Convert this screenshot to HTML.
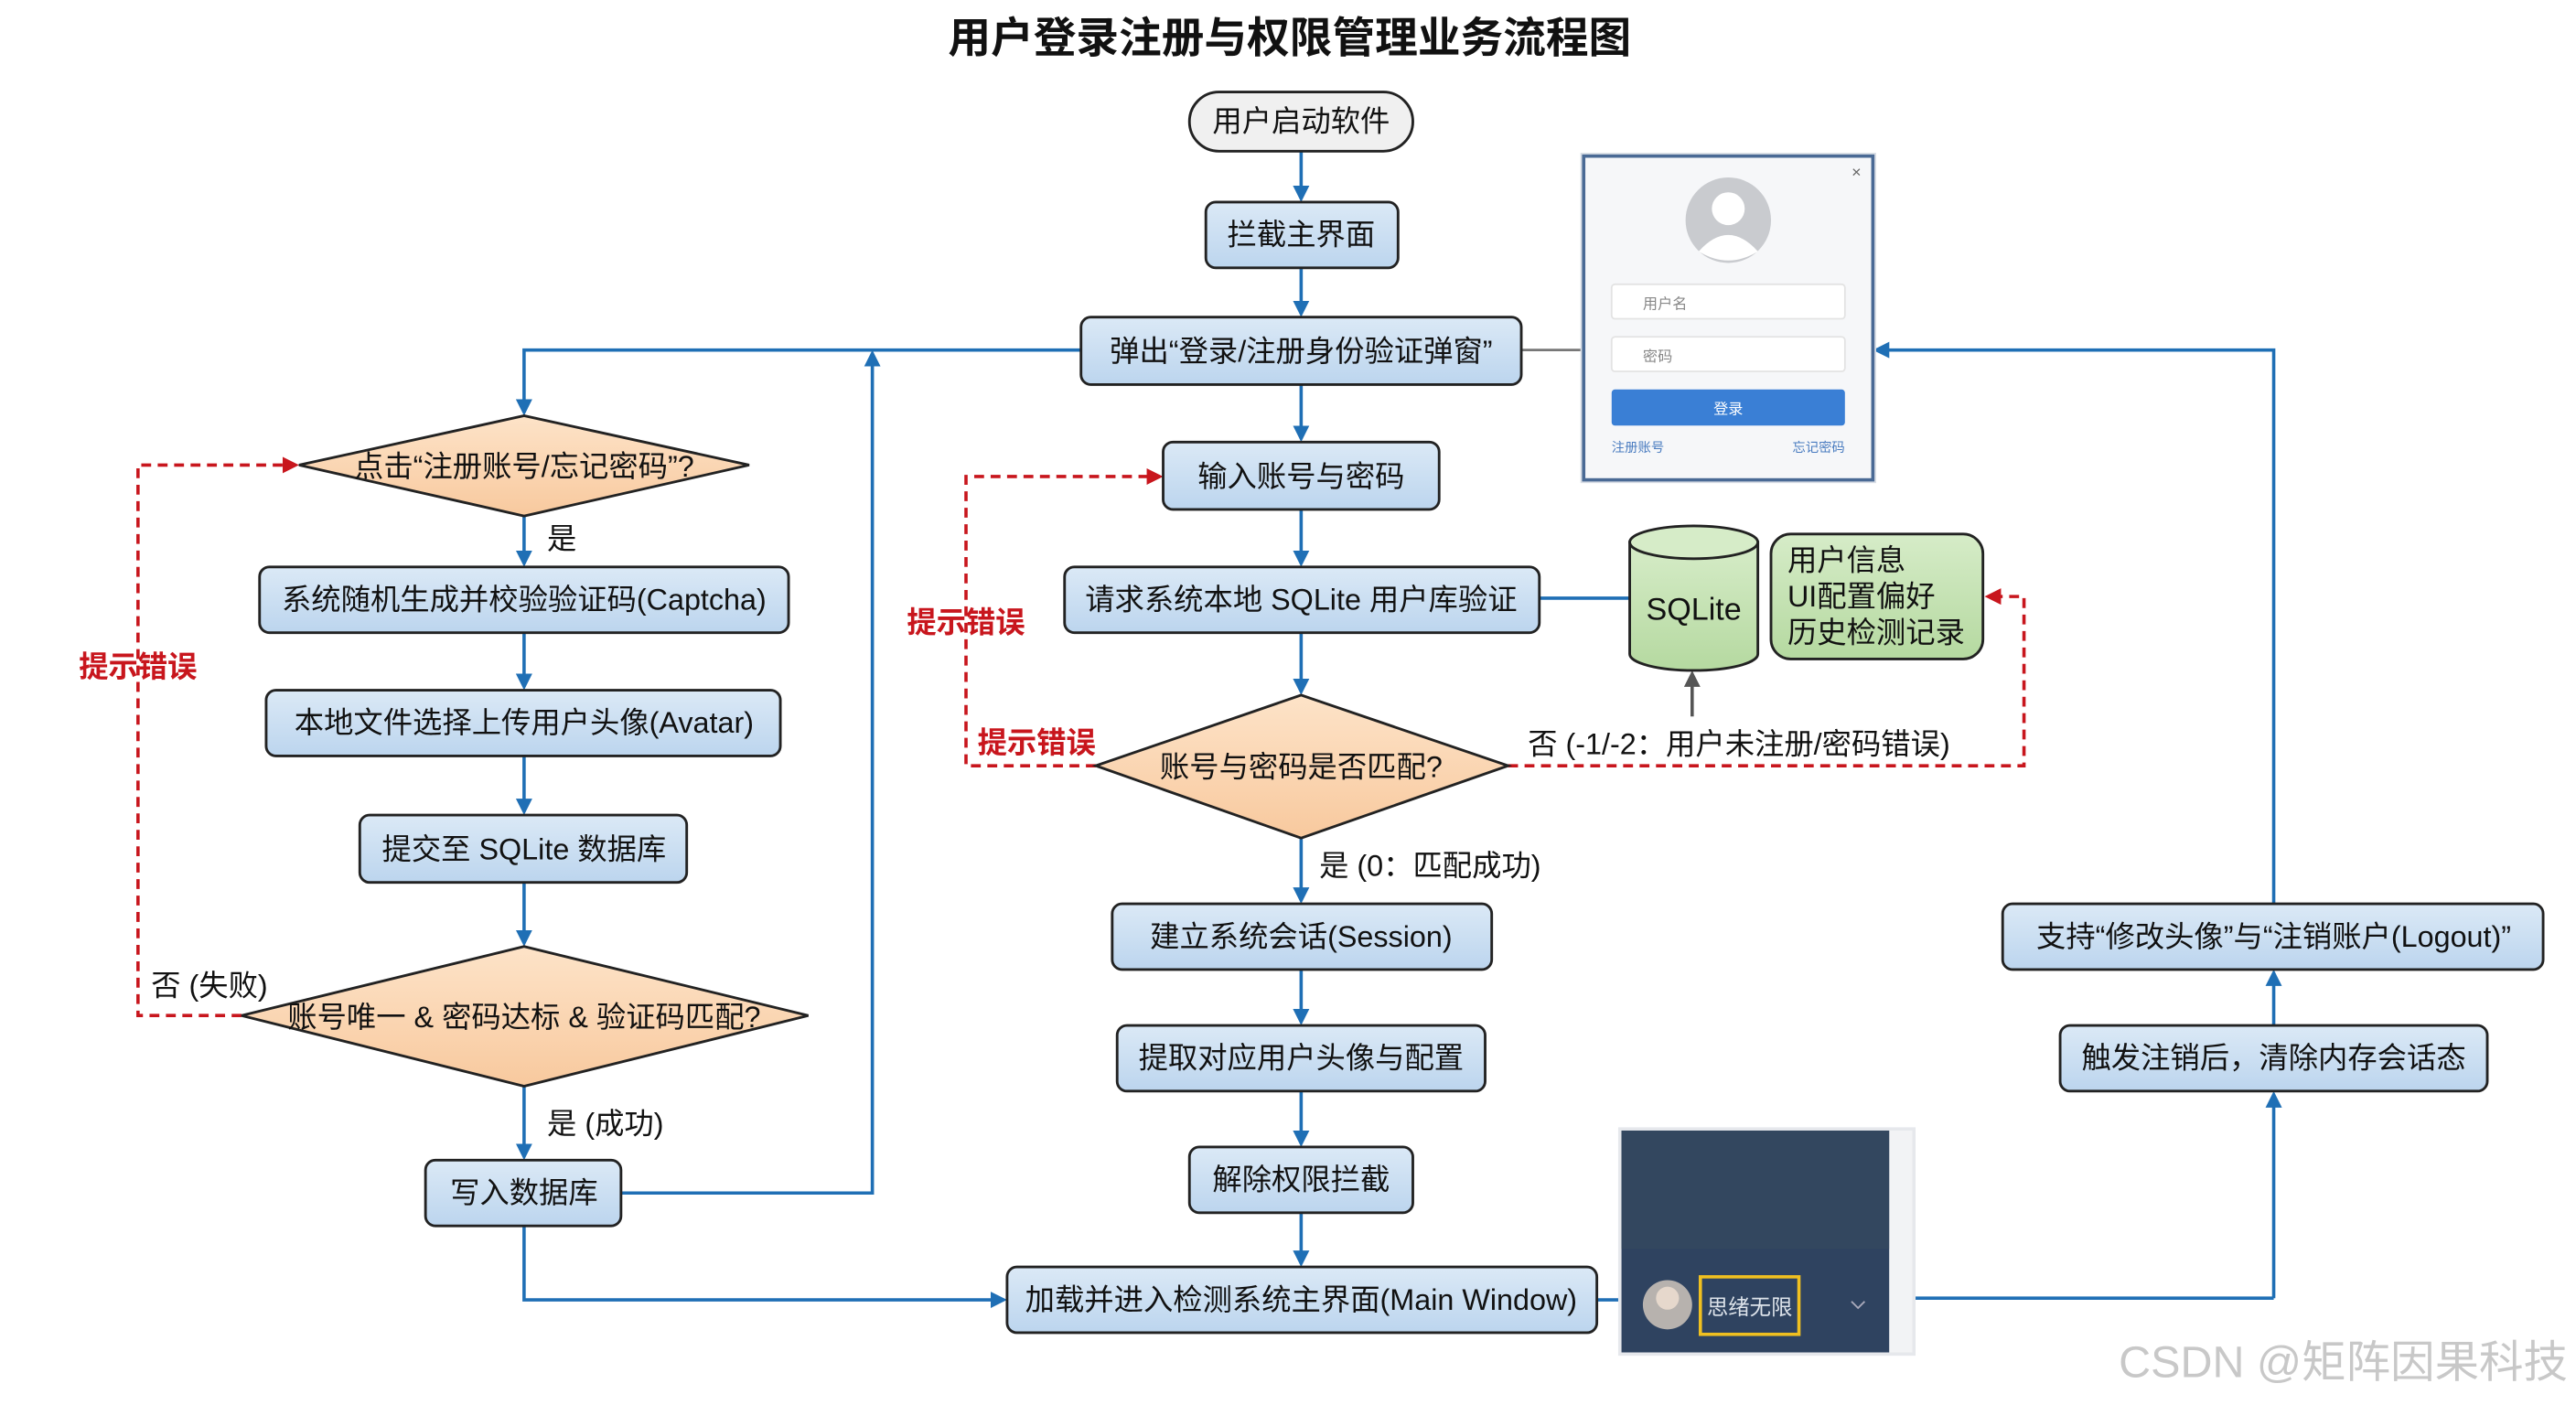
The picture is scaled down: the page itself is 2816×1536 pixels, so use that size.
<!DOCTYPE html>
<html><head><meta charset="utf-8"><style>
html,body{margin:0;padding:0;background:#fff;width:2816px;height:1536px;overflow:hidden}
svg{display:block}
text{font-family:"Liberation Sans","Noto Sans CJK SC",sans-serif;}
</style></head><body>
<svg width="2816" height="1536" viewBox="0 0 1568 855" preserveAspectRatio="none" xmlns="http://www.w3.org/2000/svg">
<defs>
<linearGradient id="bg" x1="0" y1="0" x2="0" y2="1"><stop offset="0" stop-color="#dbe9f6"/><stop offset="1" stop-color="#bcd5ee"/></linearGradient>
<linearGradient id="og" x1="0" y1="0" x2="0" y2="1"><stop offset="0" stop-color="#fde3c8"/><stop offset="1" stop-color="#f8c99e"/></linearGradient>
<linearGradient id="gg" x1="0" y1="0" x2="0" y2="1"><stop offset="0" stop-color="#d6ecc8"/><stop offset="1" stop-color="#b5d9a0"/></linearGradient>
<marker id="ab" markerWidth="10" markerHeight="10" refX="8" refY="5" orient="auto" markerUnits="userSpaceOnUse"><path d="M0,0 L10,5 L0,10 z" fill="#1f6fb5"/></marker>
<marker id="ar" markerWidth="10" markerHeight="10" refX="8" refY="5" orient="auto" markerUnits="userSpaceOnUse"><path d="M0,0 L10,5 L0,10 z" fill="#c8161d"/></marker>
<marker id="ag" markerWidth="10" markerHeight="10" refX="8" refY="5" orient="auto" markerUnits="userSpaceOnUse"><path d="M0,0 L10,5 L0,10 z" fill="#555"/></marker>
</defs>
<text x="785" y="32" font-size="26" font-weight="bold" text-anchor="middle" fill="#111">用户登录注册与权限管理业务流程图</text>

<g stroke="#1f6fb5" stroke-width="2" fill="none" marker-end="url(#ab)">
<line x1="792" y1="92" x2="792" y2="121"/>
<line x1="792" y1="163" x2="792" y2="191"/>
<line x1="792" y1="234" x2="792" y2="267"/>
<line x1="792" y1="310" x2="792" y2="343"/>
<line x1="792" y1="385" x2="792" y2="421"/>
<line x1="792" y1="510" x2="792" y2="548"/>
<line x1="792" y1="590" x2="792" y2="622"/>
<line x1="792" y1="664" x2="792" y2="696"/>
<line x1="792" y1="738" x2="792" y2="769"/>
<polyline points="658,213 319,213 319,251"/>
<line x1="319" y1="314" x2="319" y2="343"/>
<line x1="319" y1="385" x2="319" y2="418"/>
<line x1="319" y1="460" x2="319" y2="494"/>
<line x1="319" y1="537" x2="319" y2="574"/>
<line x1="319" y1="661" x2="319" y2="704"/>
<polyline points="378,726 531,726 531,215"/>
<polyline points="319,746 319,791 611,791"/>
<line x1="1384" y1="790" x2="1384" y2="666"/>
<line x1="1384" y1="624" x2="1384" y2="592"/>
<polyline points="1384,550 1384,213 1142,213"/>
</g>
<line x1="972" y1="791" x2="988" y2="791" stroke="#1f6fb5" stroke-width="2"/>
<line x1="1164" y1="790" x2="1384" y2="790" stroke="#1f6fb5" stroke-width="2"/>
<line x1="937" y1="364" x2="992" y2="364" stroke="#1f6fb5" stroke-width="2"/>
<line x1="926" y1="213" x2="964" y2="213" stroke="#777" stroke-width="1.5"/>
<line x1="1030" y1="436" x2="1030" y2="410" stroke="#555" stroke-width="2" marker-end="url(#ag)"/>

<g stroke="#c8161d" stroke-width="2" fill="none" stroke-dasharray="6,4">
<polyline points="147,618 84,618 84,283 180,283" marker-end="url(#ar)"/>
<polyline points="667,466 588,466 588,290 706,290" marker-end="url(#ar)"/>
<polyline points="918,466 1232,466 1232,363 1210,363" marker-end="url(#ar)"/>
</g>

<g stroke="#222" stroke-width="1.6">
<rect x="724" y="56" width="136" height="36" rx="18" fill="#f0f0f0"/>
<rect x="734" y="123" width="117" height="40" rx="6" fill="url(#bg)"/>
<rect x="658" y="193" width="268" height="41" rx="6" fill="url(#bg)"/>
<rect x="708" y="269" width="168" height="41" rx="6" fill="url(#bg)"/>
<rect x="648" y="345" width="289" height="40" rx="6" fill="url(#bg)"/>
<polygon points="667,466 792,423 918,466 792,510" fill="url(#og)"/>
<rect x="677" y="550" width="231" height="40" rx="6" fill="url(#bg)"/>
<rect x="680" y="624" width="224" height="40" rx="6" fill="url(#bg)"/>
<rect x="724" y="698" width="136" height="40" rx="6" fill="url(#bg)"/>
<rect x="613" y="771" width="359" height="40" rx="6" fill="url(#bg)"/>
<polygon points="182,283 319,253 456,283 319,314" fill="url(#og)"/>
<rect x="158" y="345" width="322" height="40" rx="6" fill="url(#bg)"/>
<rect x="162" y="420" width="313" height="40" rx="6" fill="url(#bg)"/>
<rect x="219" y="496" width="199" height="41" rx="6" fill="url(#bg)"/>
<polygon points="147,618 319,576 492,618 319,661" fill="url(#og)"/>
<rect x="259" y="706" width="119" height="40" rx="6" fill="url(#bg)"/>
<rect x="1219" y="550" width="329" height="40" rx="6" fill="url(#bg)"/>
<rect x="1254" y="624" width="260" height="40" rx="6" fill="url(#bg)"/>
<path d="M992,330 L992,398 A39,10 0 0 0 1070,398 L1070,330 Z" fill="url(#gg)"/>
<ellipse cx="1031" cy="330" rx="39" ry="10" fill="#d6ecc8"/>
<rect x="1078" y="325" width="129" height="76" rx="12" fill="url(#gg)"/>
</g>

<g font-size="18" fill="#111" text-anchor="middle">
<text x="792" y="80">用户启动软件</text>
<text x="792" y="149">拦截主界面</text>
<text x="792" y="220">弹出“登录/注册身份验证弹窗”</text>
<text x="792" y="296">输入账号与密码</text>
<text x="792" y="371">请求系统本地 SQLite 用户库验证</text>
<text x="792" y="473">账号与密码是否匹配?</text>
<text x="792" y="576">建立系统会话(Session)</text>
<text x="792" y="650">提取对应用户头像与配置</text>
<text x="792" y="724">解除权限拦截</text>
<text x="792" y="797">加载并进入检测系统主界面(Main Window)</text>
<text x="319" y="290">点击“注册账号/忘记密码”?</text>
<text x="319" y="371">系统随机生成并校验验证码(Captcha)</text>
<text x="319" y="446">本地文件选择上传用户头像(Avatar)</text>
<text x="319" y="523">提交至 SQLite 数据库</text>
<text x="319" y="625">账号唯一 &amp; 密码达标 &amp; 验证码匹配?</text>
<text x="319" y="732">写入数据库</text>
<text x="1384" y="576">支持“修改头像”与“注销账户(Logout)”</text>
<text x="1384" y="650">触发注销后，清除内存会话态</text>
<text x="1031" y="377" font-size="19">SQLite</text>
</g>
<g font-size="18" fill="#111">
<text x="1088" y="347">用户信息</text>
<text x="1088" y="369">UI配置偏好</text>
<text x="1088" y="391">历史检测记录</text>
<text x="333" y="334">是</text>
<text x="333" y="690">是 (成功)</text>
<text x="803" y="533">是 (0：匹配成功)</text>
<text x="92" y="606">否 (失败)</text>
<text x="930" y="459">否 (-1/-2：用户未注册/密码错误)</text>
</g>
<g font-size="18" fill="#c8161d" font-weight="bold" text-anchor="middle">
<text x="84" y="412">提示错误</text>
<text x="588" y="385">提示错误</text>
<text x="631" y="458">提示错误</text>
</g>

<!-- login window -->
<rect x="962" y="93" width="180" height="201" fill="#d8dde5"/>
<rect x="964" y="95" width="176" height="197" fill="#f6f7f9" stroke="#4a6a95" stroke-width="2"/>
<text x="1130" y="108" font-size="10" fill="#666" text-anchor="middle">×</text>
<circle cx="1052" cy="134" r="26" fill="#c9cbcf"/>
<circle cx="1052" cy="127" r="10" fill="#fff"/>
<path d="M1034,153 Q1052,133 1070,153 Q1052,164 1034,153 Z" fill="#fff"/>
<rect x="981" y="173" width="142" height="21" rx="2" fill="#fff" stroke="#e3e3e3"/>
<text x="1000" y="188" font-size="9" fill="#888">用户名</text>
<rect x="981" y="205" width="142" height="21" rx="2" fill="#fff" stroke="#e3e3e3"/>
<text x="1000" y="220" font-size="9" fill="#888">密码</text>
<rect x="981" y="237" width="142" height="22" rx="2" fill="#3a7fd5"/>
<text x="1052" y="252" font-size="9" fill="#fff" text-anchor="middle">登录</text>
<text x="981" y="275" font-size="8" fill="#4a7cc0">注册账号</text>
<text x="1123" y="275" font-size="8" fill="#4a7cc0" text-anchor="end">忘记密码</text>

<!-- main window screenshot -->
<rect x="985" y="686" width="181" height="139" fill="#e6e8ec"/>
<rect x="987" y="688" width="163" height="135" fill="#2f4360"/>
<rect x="987" y="688" width="163" height="72" fill="#33475f"/>
<rect x="1150" y="688" width="14" height="135" fill="#f2f3f5"/>
<circle cx="1015" cy="794" r="15" fill="#b7b2ae"/>
<circle cx="1015" cy="790" r="7" fill="#e6d8cc"/>
<rect x="1035" y="777" width="60" height="35" fill="none" stroke="#f0c020" stroke-width="2"/>
<text x="1065" y="800" font-size="13" fill="#dde3ea" text-anchor="middle">思绪无限</text>
<path d="M1127,792 l4,4 l4,-4" stroke="#aab" fill="none" stroke-width="1"/>

<text x="1563" y="838" font-size="27" fill="#c8c8c8" text-anchor="end">CSDN @矩阵因果科技</text>
</svg>
</body></html>
